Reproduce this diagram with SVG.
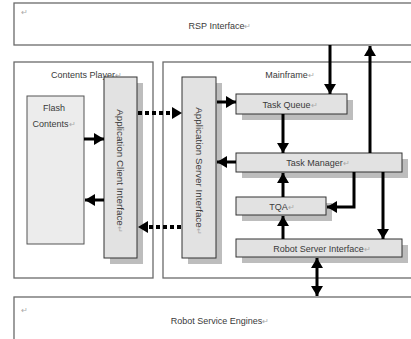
<svg xmlns="http://www.w3.org/2000/svg" width="411" height="339" viewBox="0 0 411 339">
<defs>
<marker id="ah" markerUnits="userSpaceOnUse" markerWidth="12" markerHeight="12" refX="10" refY="6" orient="auto-start-reverse">
<path d="M0,0 L10,6 L0,12 Z" fill="#000"/>
</marker>
</defs>
<style>
.outer{fill:#fff;stroke:#6a6a6a;stroke-width:1.3}
.box{fill:#e2e2e2;stroke:#333;stroke-width:1}
.shadow{fill:#bdbdbd;stroke:none}
.t{font-family:"Liberation Sans",Arial,sans-serif;font-size:9px;fill:#3a3a3a}
.v{font-size:9.8px}
.pm{fill:#aaa;font-size:8px}
.c{fill:none;stroke:#000;stroke-width:3}
.d{fill:none;stroke:#000;stroke-width:4;stroke-dasharray:4 3}
</style>
<rect width="411" height="339" fill="#fff"/>

<g id="rsp">
<rect class="outer" x="14" y="3" width="410" height="42"/>
<text class="t pm" x="21" y="15">↵</text>
<text class="t" x="220" y="29" text-anchor="middle">RSP Interface<tspan class="pm">↵</tspan></text>
</g>

<g id="contents-player">
<rect class="outer" x="14" y="62" width="139" height="216"/>
<text class="t" x="51" y="78">Contents Player<tspan class="pm">↵</tspan></text>
</g>

<g id="mainframe">
<rect class="outer" x="163" y="62" width="260" height="216"/>
<text class="t" x="290" y="78" text-anchor="middle">Mainframe<tspan class="pm">↵</tspan></text>
</g>

<g id="rse">
<rect class="outer" x="14" y="297" width="410" height="44"/>
<text class="t pm" x="21" y="313">↵</text>
<text class="t" x="220" y="324" text-anchor="middle">Robot Service Engines<tspan class="pm">↵</tspan></text>
</g>

<g id="flash">
<rect x="27" y="96" width="57" height="148" fill="#ececec" stroke="#555" stroke-width="1"/>
<text class="t" x="54" y="111" text-anchor="middle">Flash</text>
<text class="t" x="54" y="127" text-anchor="middle">Contents<tspan class="pm">↵</tspan></text>
</g>

<g id="aci">
<rect class="shadow" x="110" y="83" width="33" height="181"/>
<rect class="box" x="104" y="77" width="33" height="181"/>
<text class="t v" transform="translate(117,171) rotate(90)" text-anchor="middle">Application Client Interface<tspan class="pm">↵</tspan></text>
</g>

<g id="asi">
<rect class="shadow" x="188" y="83" width="34" height="181"/>
<rect class="box" x="182" y="77" width="34" height="181"/>
<text class="t v" transform="translate(196,171) rotate(90)" text-anchor="middle">Application Server Interface<tspan class="pm">↵</tspan></text>
</g>

<g id="task-queue">
<rect class="shadow" x="242" y="100" width="111" height="20"/>
<rect class="box" x="236" y="94" width="111" height="20"/>
<text class="t" x="290" y="107.5" text-anchor="middle">Task Queue<tspan class="pm">↵</tspan></text>
</g>

<g id="task-manager">
<rect class="shadow" x="242" y="159" width="166" height="19"/>
<rect class="box" x="236" y="153" width="166" height="19"/>
<text class="t" x="318" y="166" text-anchor="middle">Task Manager<tspan class="pm">↵</tspan></text>
</g>

<g id="tqa">
<rect class="shadow" x="242" y="203" width="90" height="18"/>
<rect class="box" x="236" y="197" width="90" height="18"/>
<text class="t" x="282" y="209.5" text-anchor="middle">TQA<tspan class="pm">↵</tspan></text>
</g>

<g id="rsi">
<rect class="shadow" x="242" y="245" width="166" height="18"/>
<rect class="box" x="236" y="239" width="166" height="18"/>
<text class="t" x="322" y="251.5" text-anchor="middle">Robot Server Interface<tspan class="pm">↵</tspan></text>
</g>

<g id="connectors">
<path class="c" d="M330,45 V94" marker-end="url(#ah)"/>
<path class="c" d="M370,153 V46" marker-end="url(#ah)"/>
<path class="c" d="M283,114 V153" marker-end="url(#ah)"/>
<path class="c" d="M236,162 H217" marker-end="url(#ah)"/>
<path class="c" d="M283,197 V173" marker-end="url(#ah)"/>
<path class="c" d="M354,172 V207 H327" marker-end="url(#ah)"/>
<path class="c" d="M383,172 V239" marker-end="url(#ah)"/>
<path class="c" d="M283,239 V216" marker-end="url(#ah)"/>
<path class="c" d="M317,258 V296" marker-start="url(#ah)" marker-end="url(#ah)"/>
<path class="c" d="M217,102 H236" marker-end="url(#ah)"/>
<path class="c" d="M84,139 H104" marker-end="url(#ah)"/>
<path class="c" d="M104,200 H85" marker-end="url(#ah)"/>
<path class="d" d="M138,113 H173"/>
<path d="M172,107 L182,113 L172,119 Z" fill="#000"/>
<path class="d" d="M181,227 H147"/>
<path d="M148,221 L138,227 L148,233 Z" fill="#000"/>
</g>
</svg>
